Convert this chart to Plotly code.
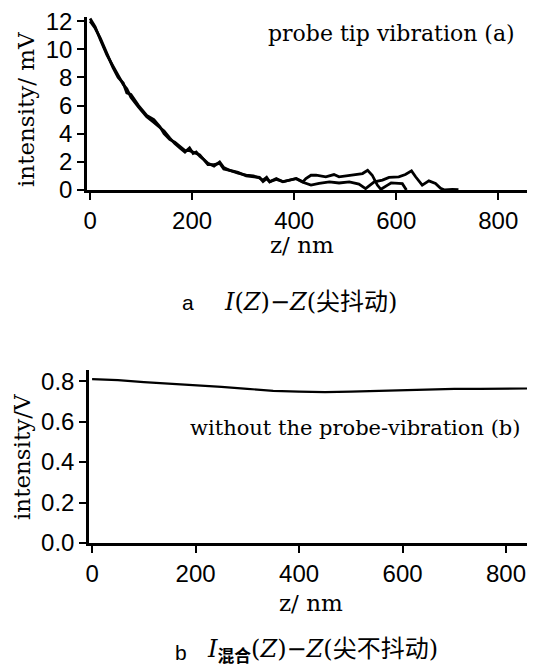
import plotly.graph_objects as go

# ---- data: panel (a), two runs of I(Z) with probe tip vibration (mV) ----
z_run1 = [0, 10, 20, 33, 45, 55, 65, 72, 80, 95, 111, 125, 137, 145, 156, 166, 176, 186, 195, 202,
          208, 215, 222, 231, 243, 254, 262, 273, 290, 306, 320, 332, 339, 346, 352, 365, 378, 391, 404, 417,
          423, 433, 443, 462, 478, 488, 514, 534, 544, 553, 563, 570, 583, 590, 605, 612, 620]
v_run1 = [12.2, 11.6, 10.7, 9.6, 8.8, 8.1, 7.5, 7.2, 6.6, 5.9, 5.2, 4.8, 4.4, 4.2, 3.7, 3.3, 3.0, 2.7, 3.0, 2.6,
          2.7, 2.4, 2.2, 1.9, 1.7, 2.0, 1.6, 1.4, 1.2, 1.05, 1.0, 0.85, 0.7, 0.9, 0.58, 0.82, 0.58, 0.7, 0.82, 0.58,
          0.82, 1.05, 1.05, 0.94, 1.1, 0.94, 1.05, 1.17, 1.4, 1.05, 0.35, 0.05, 0.35, 0.5, 0.47, 0.45, 0.0]

z_run2 = [0, 10, 20, 33, 45, 55, 65, 72, 80, 95, 111, 125, 137, 145, 156, 166, 176, 186, 195, 202,
          208, 215, 222, 231, 243, 254, 262, 273, 290, 306, 320, 332, 339, 346, 352, 365, 378, 391, 404, 417,
          423, 433, 449, 469, 488, 508, 527, 540, 557, 573, 586, 596, 605, 618, 630, 638, 651, 664, 677, 687,
          695, 710, 722]
v_run2 = [12.0, 11.5, 10.8, 9.7, 8.7, 8.0, 7.6, 6.9, 6.8, 6.0, 5.3, 5.0, 4.5, 4.0, 3.6, 3.4, 3.1, 2.8, 2.8, 2.7,
          2.6, 2.5, 2.2, 1.8, 1.8, 1.9, 1.5, 1.4, 1.25, 1.0, 0.95, 0.9, 0.6, 0.8, 0.6, 0.75, 0.6, 0.7, 0.8, 0.55,
          0.47, 0.35, 0.47, 0.58, 0.5, 0.58, 0.42, 0.1, 0.58, 0.7, 0.9, 0.94, 0.94, 1.1, 1.36, 0.94, 0.35, 0.65, 0.47, 0.12,
          0.0, 0.05, 0.03]

# ---- data: panel (b), without probe vibration (V) ----
z_b = [0, 50, 100, 150, 200, 250, 300, 350, 400, 450, 500, 550, 600, 650, 700, 750, 800, 850, 870]
v_b = [0.81, 0.805, 0.795, 0.788, 0.78, 0.772, 0.762, 0.752, 0.748, 0.746, 0.748, 0.752, 0.757, 0.76,
       0.762, 0.762, 0.763, 0.764, 0.764]

xticks = [0, 200, 400, 600, 800]
yticks_a = [0, 2, 4, 6, 8, 10, 12]
yticks_b = [0.0, 0.2, 0.4, 0.6, 0.8]
ytick_b_text = ["0.0", "0.2", "0.4", "0.6", "0.8"]

# page body has an 8px margin: figure drawn 8px in from the window's top-left corner
OFF = 8
W, H = 535 - OFF, 669 - OFF
SERIF = "DejaVu Serif"
SANS = "Liberation Sans, Arial"
CAP = "DejaVu Serif, Noto Sans CJK SC"


def px(X):
    return (X - OFF) / W


def py(Y):
    return 1 - (Y - OFF) / H


fig = go.Figure()
fig.add_trace(go.Scatter(x=z_run1, y=v_run1, mode="lines", line=dict(color="black", width=2.8),
                         xaxis="x", yaxis="y", showlegend=False))
fig.add_trace(go.Scatter(x=z_run2, y=v_run2, mode="lines", line=dict(color="black", width=2.8),
                         xaxis="x", yaxis="y", showlegend=False))
fig.add_trace(go.Scatter(x=z_b, y=v_b, mode="lines", line=dict(color="black", width=2.2),
                         xaxis="x2", yaxis="y2", showlegend=False))

axis_common = dict(showgrid=False, zeroline=False, showline=True, linecolor="black", linewidth=2.5,
                   ticks="outside", ticklen=7, tickwidth=2, tickcolor="black", automargin=False,
                   ticklabeloverflow="allow",
                   tickfont=dict(family=SANS, size=24, color="black"))

fig.update_layout(
    width=W, height=H,
    margin=dict(l=0, r=0, t=0, b=0),
    paper_bgcolor="white", plot_bgcolor="white",
    xaxis=dict(domain=[px(87), 1], range=[-6, 872], tickvals=xticks, anchor="y", **axis_common),
    yaxis=dict(domain=[py(190), py(17)], range=[0, 12.3], tickvals=yticks_a,
               anchor="x", **axis_common),
    xaxis2=dict(domain=[px(89), 1], range=[-6, 856], tickvals=xticks, anchor="y2", **axis_common),
    yaxis2=dict(domain=[py(543), py(370)], range=[0, 0.855], tickvals=yticks_b,
                ticktext=ytick_b_text, anchor="x2", **axis_common),
)


def ann(text, x, y, size, family, angle=0, xanchor="center", yanchor="middle"):
    fig.add_annotation(text=text, x=px(x), y=py(y), xref="paper", yref="paper",
                       showarrow=False, textangle=angle, xanchor=xanchor, yanchor=yanchor,
                       font=dict(family=family, size=size, color="black"))


# axis titles
ann("intensity/ mV", 26, 110, 23, SERIF, angle=-90)
ann("z/ nm", 302, 245, 23, SERIF)
ann("intensity/V", 22, 457, 23, SERIF, angle=-90)
ann("z/ nm", 311, 603, 23, SERIF)

# in-plot labels
ann("probe tip vibration (a)", 517, 33, 22, SERIF, xanchor="right")
ann("without the probe-vibration (b)", 523, 428, 21, SERIF, xanchor="right")

# captions
ann("a", 188, 303, 21, SANS)
ann("<i>I</i>(<i>Z</i>)−<i>Z</i>(尖抖动)", 222, 302, 24, CAP, xanchor="left")
ann("b", 181, 652, 21, SANS)
ann("<i>I</i><sub><b>混合</b></sub>(<i>Z</i>)−<i>Z</i>(尖不抖动)", 205, 650, 24, CAP, xanchor="left")

fig.write_html("out.html")
